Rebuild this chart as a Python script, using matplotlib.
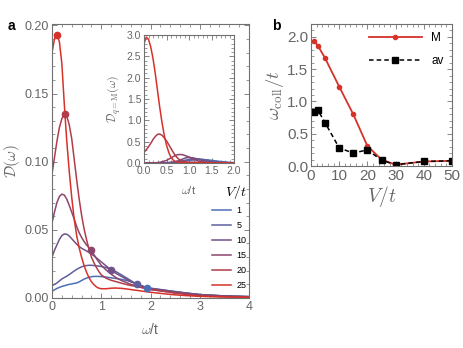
import matplotlib
matplotlib.use("Agg")
import matplotlib.pyplot as plt
from matplotlib.ticker import MultipleLocator
from matplotlib.colors import LinearSegmentedColormap

plt.rcParams['mathtext.fontset'] = 'cm'
plt.rcParams['font.family'] = ['Liberation Sans', 'DejaVu Sans']

# ---------------- data ----------------
V_list = [1, 5, 10, 15, 20, 25]
omega = [0, 0.05, 0.1, 0.15, 0.2, 0.25, 0.3, 0.35, 0.4, 0.45, 0.5, 0.55, 0.6, 0.65,
         0.7, 0.75, 0.8, 0.85, 0.9, 0.95, 1.0,
         1.1, 1.2, 1.3, 1.4, 1.5, 1.6, 1.7, 1.8, 1.9, 2.0,
         2.25, 2.5, 2.75, 3.0, 3.5, 4.0]
D_V1 = [0.005, 0.006, 0.007, 0.0078, 0.0085, 0.009, 0.0095, 0.010, 0.0103, 0.0107, 0.011,
        0.0118, 0.0128, 0.0138, 0.0146, 0.0152, 0.0156, 0.0158, 0.0159, 0.0158, 0.0157,
        0.0153, 0.0148, 0.0143, 0.0137, 0.013, 0.012, 0.0107, 0.0092, 0.0078, 0.0068,
        0.0055, 0.0045, 0.0035, 0.0025, 0.0015, 0.001]
D_V5 = [0.009, 0.010, 0.011, 0.0125, 0.014, 0.015, 0.016, 0.0172, 0.0185, 0.0198, 0.021,
        0.022, 0.0228, 0.0235, 0.0238, 0.024, 0.024, 0.0238, 0.0236, 0.0234, 0.0231,
        0.0223, 0.021, 0.0193, 0.0172, 0.015, 0.0128, 0.0104, 0.0088, 0.0078, 0.007,
        0.0058, 0.0048, 0.0035, 0.0025, 0.0015, 0.001]
D_V10 = [0.030, 0.035, 0.039, 0.043, 0.0458, 0.047, 0.0468, 0.0455, 0.0435, 0.0415, 0.0395,
         0.0378, 0.0365, 0.0355, 0.0345, 0.0335, 0.0322, 0.031, 0.0295, 0.028, 0.0265,
         0.0235, 0.0205, 0.018, 0.016, 0.014, 0.012, 0.0105, 0.0092, 0.008, 0.0072,
         0.006, 0.0045, 0.0035, 0.0025, 0.0015, 0.001]
D_V15 = [0.055, 0.063, 0.070, 0.0745, 0.0762, 0.0755, 0.0725, 0.068, 0.063, 0.058, 0.0525,
         0.048, 0.0445, 0.0415, 0.039, 0.037, 0.035, 0.032, 0.029, 0.0265, 0.024,
         0.0205, 0.0175, 0.015, 0.013, 0.0115, 0.010, 0.009, 0.008, 0.007, 0.0062,
         0.005, 0.004, 0.003, 0.002, 0.0012, 0.0008]
D_V20 = [0.091, 0.103, 0.115, 0.125, 0.1315, 0.135, 0.1335, 0.127, 0.117, 0.102, 0.087,
         0.073, 0.061, 0.051, 0.043, 0.036, 0.030, 0.026, 0.0225, 0.0195, 0.017,
         0.0145, 0.013, 0.012, 0.011, 0.010, 0.0092, 0.0085, 0.0078, 0.007, 0.0063,
         0.005, 0.0035, 0.0025, 0.0015, 0.001, 0.0005]
D_V25 = [0.180, 0.190, 0.193, 0.188, 0.172, 0.142, 0.115, 0.093, 0.074, 0.058, 0.046,
         0.037, 0.030, 0.024, 0.019, 0.015, 0.012, 0.0098, 0.0082, 0.0072, 0.0068,
         0.0068, 0.0072, 0.0073, 0.0071, 0.0067, 0.0062, 0.0057, 0.0052, 0.0047, 0.0042,
         0.0032, 0.0023, 0.0017, 0.0012, 0.0007, 0.0005]
D_curves = [D_V1, D_V5, D_V10, D_V15, D_V20, D_V25]

# omega_coll (q = M) markers on each curve
dot_omega = [1.92, 1.72, 1.2, 0.8, 0.26, 0.1]
dot_D = [0.0076, 0.0101, 0.0205, 0.035, 0.135, 0.193]

# inset: D_{q=M}(omega)
omega_in = [0, 0.05, 0.1, 0.15, 0.2, 0.25, 0.3, 0.35, 0.4, 0.45, 0.5, 0.55, 0.6, 0.65,
            0.7, 0.75, 0.8, 0.85, 0.9, 0.95, 1.0,
            1.1, 1.2, 1.3, 1.4, 1.5, 1.6, 1.7, 1.8, 1.9, 2.0]
DM_V1 = [0, 0, 0, 0, 0, 0, 0.001, 0.002, 0.003, 0.004, 0.006, 0.008, 0.011, 0.014,
         0.018, 0.023, 0.03, 0.037, 0.045, 0.053, 0.06,
         0.07, 0.078, 0.08, 0.075, 0.062, 0.048, 0.035, 0.024, 0.015, 0.009]
DM_V5 = [0, 0, 0, 0, 0, 0, 0.001, 0.002, 0.003, 0.004, 0.006, 0.008, 0.012, 0.016,
         0.022, 0.03, 0.04, 0.05, 0.062, 0.072, 0.082,
         0.095, 0.1, 0.085, 0.065, 0.045, 0.03, 0.02, 0.012, 0.007, 0.004]
DM_V10 = [0, 0, 0, 0, 0, 0, 0.001, 0.002, 0.003, 0.004, 0.005, 0.008, 0.012, 0.02,
          0.03, 0.05, 0.07, 0.09, 0.11, 0.125, 0.13,
          0.12, 0.09, 0.06, 0.04, 0.022, 0.012, 0.008, 0.005, 0.003, 0.002]
DM_V15 = [0, 0, 0, 0.002, 0.004, 0.006, 0.01, 0.015, 0.03, 0.045, 0.06, 0.09, 0.12, 0.15,
          0.18, 0.195, 0.2, 0.195, 0.18, 0.16, 0.14,
          0.09, 0.05, 0.03, 0.02, 0.01, 0.006, 0.004, 0.003, 0.002, 0.001]
DM_V20 = [0.25, 0.31, 0.38, 0.46, 0.55, 0.62, 0.67, 0.68, 0.65, 0.59, 0.52, 0.43, 0.34, 0.25,
          0.17, 0.11, 0.07, 0.045, 0.03, 0.024, 0.02,
          0.02, 0.015, 0.01, 0.007, 0.005, 0.003, 0.002, 0.0015, 0.001, 0.0005]
DM_V25 = [2.8, 2.95, 2.9, 2.72, 2.45, 2.1, 1.7, 1.3, 0.95, 0.65, 0.42, 0.25, 0.13, 0.07,
          0.035, 0.02, 0.012, 0.008, 0.006, 0.005, 0.005,
          0.004, 0.003, 0.002, 0.002, 0.001, 0.001, 0.001, 0.0005, 0.0003, 0.0]
DM_curves = [DM_V1, DM_V5, DM_V10, DM_V15, DM_V20, DM_V25]

# panel b
V_b = [1, 2.5, 5, 10, 15, 20, 25, 30, 40, 50]
wcoll_M = [1.94, 1.86, 1.67, 1.23, 0.80, 0.31, 0.10, 0.02, 0.07, 0.08]
wcoll_av = [0.83, 0.86, 0.67, 0.28, 0.20, 0.25, 0.09, 0.02, 0.07, 0.08]

# ---------------- style ----------------
cmap = LinearSegmentedColormap.from_list('br', ['#4b6fb4', '#7b4a7c', '#d6322a'])
colors = [cmap(i / (len(V_list) - 1)) for i in range(len(V_list))]
frame_col = '#707070'
tick_col = '#666666'


def style_axes(ax, fs):
    for s in ax.spines.values():
        s.set_color(frame_col)
        s.set_linewidth(0.8)
    ax.tick_params(which='both', direction='in', top=True, right=True,
                   colors=frame_col, labelcolor=tick_col, labelsize=fs, pad=2)
    ax.tick_params(which='major', length=3.5, width=0.6)
    ax.tick_params(which='minor', length=2, width=0.5)


fig = plt.figure(figsize=(4.63, 3.48), dpi=100)

# ---- panel a ----
axa = fig.add_axes([52 / 463, 1 - 298 / 348, 197 / 463, 274 / 348])
for V, D, c in zip(V_list, D_curves, colors):
    axa.plot(omega, D, color=c, lw=1.1, label=str(V))
for xo, yo, c in zip(dot_omega, dot_D, colors):
    axa.plot(xo, yo, 'o', color=c, ms=4.5, zorder=5)
axa.set_xlim(0, 4)
axa.set_ylim(0, 0.201)
axa.xaxis.set_major_locator(MultipleLocator(1))
axa.xaxis.set_minor_locator(MultipleLocator(0.2))
axa.yaxis.set_minor_locator(MultipleLocator(0.01))
axa.set_yticks([0, 0.05, 0.1, 0.15, 0.2])
axa.set_yticklabels(['0.00', '0.05', '0.10', '0.15', '0.20'])
style_axes(axa, 9)
axa.set_xlabel(r'$\omega$/t', fontsize=10, color=tick_col, labelpad=7)
axa.set_ylabel(r'$\mathcal{D}(\omega)$', fontsize=11, color=tick_col, labelpad=2)
leg = axa.legend(title=r'$V/t$', loc='upper left', bbox_to_anchor=(207 / 463, 1 - 178 / 348),
                 bbox_transform=fig.transFigure, frameon=False, fontsize=6.5,
                 title_fontsize=10, handlelength=2.2, handletextpad=0.6,
                 labelspacing=0.66, borderpad=0)
leg._legend_box.align = 'right'

# ---- inset ----
axi = fig.add_axes([144 / 463, 1 - 163 / 348, 90 / 463, 128 / 348])
for D, c in zip(DM_curves, colors):
    axi.plot(omega_in, D, color=c, lw=1.1)
axi.set_xlim(0, 2)
axi.set_ylim(0, 3.0)
axi.xaxis.set_major_locator(MultipleLocator(0.5))
axi.xaxis.set_minor_locator(MultipleLocator(0.1))
axi.yaxis.set_major_locator(MultipleLocator(0.5))
axi.yaxis.set_minor_locator(MultipleLocator(0.1))
style_axes(axi, 7.5)
axi.set_xlabel(r'$\omega$/t', fontsize=8, color=tick_col, labelpad=6)
axi.set_ylabel(r'$\mathcal{D}_{q=\mathrm{M}}(\omega)$', fontsize=8.5, color=tick_col, labelpad=3)

# ---- panel b ----
axb = fig.add_axes([311 / 463, 1 - 166 / 348, 141 / 463, 142 / 348])
axb.plot(V_b, wcoll_M, '-o', color='#d6322a', lw=1.3, ms=3, label='M')
axb.plot(V_b, wcoll_av, '--s', color='black', lw=1.1, ms=4, label='av', dashes=(3, 2))
axb.set_xlim(0, 50)
axb.set_ylim(0, 2.2)
axb.xaxis.set_major_locator(MultipleLocator(10))
axb.xaxis.set_minor_locator(MultipleLocator(2))
axb.yaxis.set_major_locator(MultipleLocator(0.5))
axb.yaxis.set_minor_locator(MultipleLocator(0.1))
style_axes(axb, 11)
axb.set_xlabel(r'$V/t$', fontsize=14, color=tick_col, labelpad=1)
axb.set_ylabel(r'$\omega_{\rm coll}/t$', fontsize=13.5, color=tick_col, labelpad=1)
axb.legend(loc='upper right', frameon=False, fontsize=8.5, handlelength=4.5,
           handletextpad=0.8, labelspacing=0.9, borderaxespad=0.3)

fig.text(8 / 463, 1 - 30 / 348, 'a', fontsize=10, fontweight='bold')
fig.text(272 / 463, 1 - 30 / 348, 'b', fontsize=10, fontweight='bold')

fig.savefig('out.png', dpi=100)
